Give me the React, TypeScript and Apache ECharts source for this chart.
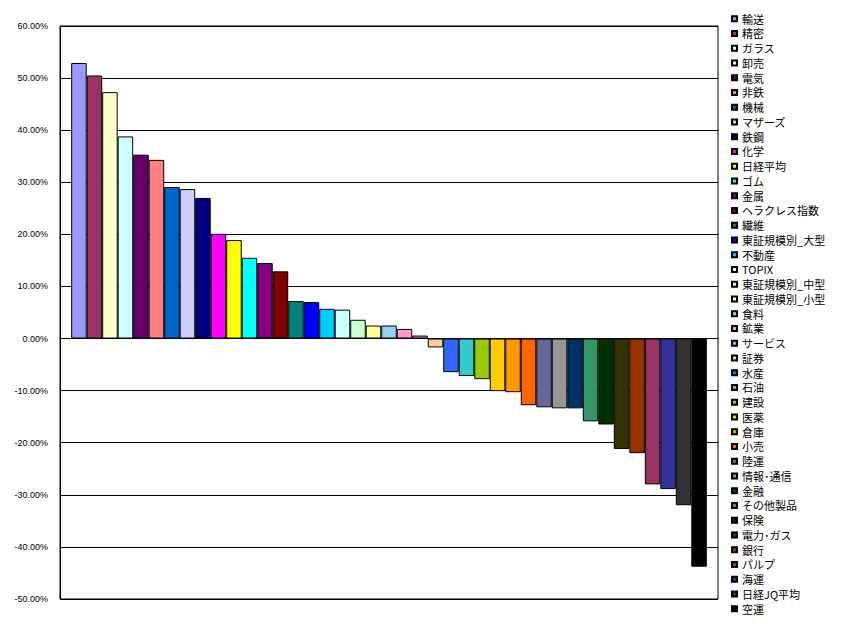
import React, { useEffect, useRef } from "react";
import * as echarts from "echarts";

const sectors: string[] = [
  "輸送", "精密", "ガラス", "卸売", "電気", "非鉄", "機械", "マザーズ", "鉄鋼", "化学",
  "日経平均", "ゴム", "金属", "ヘラクレス指数", "繊維", "東証規模別_大型", "不動産", "TOPIX",
  "東証規模別_中型", "東証規模別_小型", "食料", "鉱業", "サービス", "証券", "水産", "石油",
  "建設", "医薬", "倉庫", "小売", "陸運", "情報･通信", "金融", "その他製品", "保険",
  "電力･ガス", "銀行", "パルプ", "海運", "日経JQ平均", "空運",
];

const changes: number[] = [
  52.9, 50.5, 47.3, 38.8, 35.3, 34.3, 29.1, 28.7, 27.0, 20.1,
  18.9, 15.5, 14.5, 12.9, 7.2, 7.0, 5.7, 5.55, 3.6, 2.5,
  2.5, 1.85, 0.57, -1.7, -6.45, -7.2, -7.8, -10.1, -10.3, -12.8,
  -13.2, -13.4, -13.4, -15.9, -16.5, -21.2, -22.0, -28.0, -28.9, -32.0,
  -43.8,
];

const colors: string[] = [
  "#9999FF", "#993366", "#FFFFCC", "#CCFFFF", "#660066", "#FF8080", "#0066CC", "#CCCCFF",
  "#000080", "#FF00FF", "#FFFF00", "#00FFFF", "#800080", "#800000", "#008080", "#0000FF",
  "#00CCFF", "#CCFFFF", "#CCFFCC", "#FFFF99", "#99CCFF", "#FF99CC", "#CC99FF", "#FFCC99",
  "#3366FF", "#33CCCC", "#99CC00", "#FFCC00", "#FF9900", "#FF6600", "#666699", "#969696",
  "#003366", "#339966", "#003300", "#333300", "#993300", "#993366", "#333399", "#333333",
  "#000000",
];

const yMin = -50;
const yMax = 60;
const yStep = 10;

export default function App() {
  const ref = useRef<HTMLDivElement>(null);
  useEffect(() => {
    if (!ref.current) return;
    const chart = echarts.init(ref.current, null, { renderer: "svg" });
    chart.setOption({
      animation: false,
      backgroundColor: "#fff",
      grid: {
        left: 60,
        right: 123,
        top: 26,
        bottom: 31,
        show: true,
        borderColor: "#000",
        borderWidth: 1,
      },
      legend: {
        orient: "vertical",
        left: 731,
        top: 12.7,
        padding: 0,
        icon: "rect",
        itemWidth: 5,
        itemHeight: 5,
        itemGap: 2.75,
        selectedMode: false,
        textStyle: {
          fontSize: 11,
          lineHeight: 12,
          color: "#000",
          fontFamily: "'Noto Sans CJK JP', sans-serif",
        },
        data: sectors,
      },
      xAxis: {
        type: "category",
        data: [""],
        axisLine: { show: true, onZero: true, lineStyle: { color: "#000", width: 1 } },
        axisTick: { show: false },
        axisLabel: { show: false },
        splitLine: { show: false },
      },
      yAxis: {
        type: "value",
        min: yMin,
        max: yMax,
        interval: yStep,
        axisLine: { show: true, lineStyle: { color: "#000", width: 1 } },
        axisTick: { show: false },
        splitLine: { show: true, lineStyle: { color: "#000", width: 1 } },
        axisLabel: {
          margin: 12,
          fontSize: 9,
          color: "#000",
          fontFamily: "Arial, 'Liberation Sans', sans-serif",
          formatter: (v: number) => v.toFixed(2) + "%",
        },
      },
      series: sectors.map((name, i) => ({
        name,
        type: "bar",
        data: [changes[i]],
        barGap: "0%",
        barCategoryGap: "3.4%",
        itemStyle: { color: colors[i], borderColor: "#000", borderWidth: 1 },
      })),
    });
    return () => chart.dispose();
  }, []);
  return (
    <div
      ref={ref}
      style={{ position: "fixed", left: 0, top: 0, width: 841, height: 630 }}
    />
  );
}
